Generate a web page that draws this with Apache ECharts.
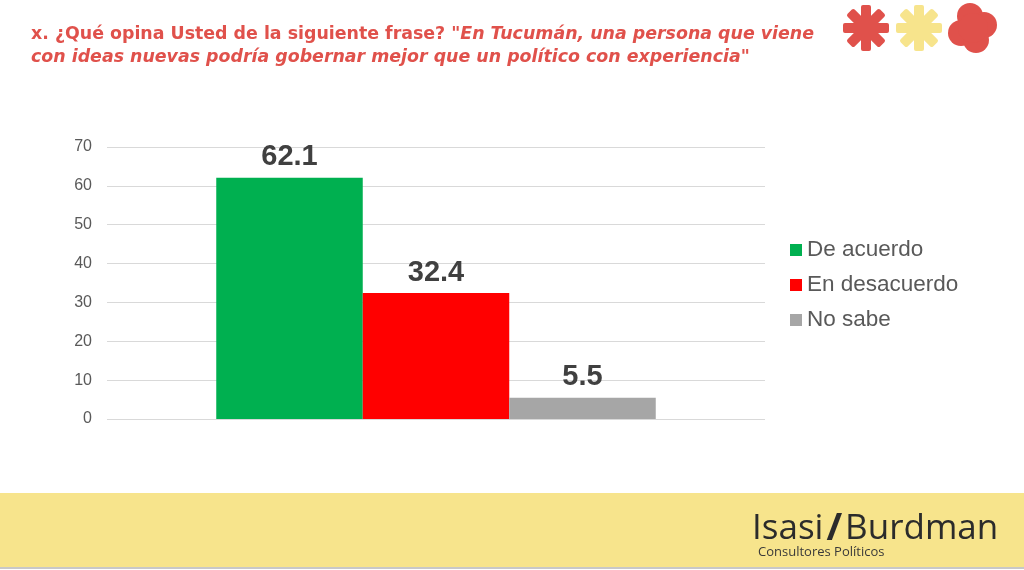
<!DOCTYPE html>
<html><head><meta charset="utf-8">
<script src="https://cdn.jsdelivr.net/npm/echarts@6/dist/echarts.min.js"></script>
<style>html,body{margin:0;padding:0;background:#fff}#c{width:1024px;height:570px}</style>
</head><body><div id="c"></div>
<script>
const categories = ['Respuesta'];
const seriesNames = ['De acuerdo', 'En desacuerdo', 'No sabe'];
const seriesValues = [[62.1], [32.4], [5.5]];
const seriesColors = ['#00B050', '#FF0000', '#A6A6A6'];
const yTicks = [0, 10, 20, 30, 40, 50, 60, 70];

const chart = echarts.init(document.getElementById('c'));

function asterisk(cx, cy, color) {
  const arms = [0, 45, 90, 135].map(a => ({
    type: 'rect', x: cx, y: cy, rotation: a * Math.PI / 180,
    shape: { x: -23, y: -5, width: 46, height: 10, r: 2 },
    style: { fill: color }
  }));
  return { type: 'group', children: arms };
}
function blob(cx, cy, color) {
  const pts = [[-3, -12, 13], [11, -3, 13], [-12, 5, 13], [3, 12, 13], [0, 0, 15]];
  return { type: 'group', children: pts.map(p => ({
    type: 'circle', shape: { cx: cx + p[0], cy: cy + p[1], r: p[2] },
    style: { fill: color }
  })) };
}

chart.setOption({
  animation: false,
  backgroundColor: '#ffffff',
  title: {
    left: 26, top: 18,
    text: '{a|x. ¿Qué opina Usted de la siguiente frase? }{b|"En Tucumán, una persona que viene}\n{b|con ideas nuevas podría gobernar mejor que un político con experiencia"}',
    textStyle: {
      rich: {
        a: { fontFamily: 'DejaVu Sans', fontWeight: 'bold', fontSize: 17.4, color: '#E0514B', lineHeight: 23 },
        b: { fontFamily: 'DejaVu Sans', fontWeight: 'bold', fontStyle: 'italic', fontSize: 17.4, color: '#E0514B', lineHeight: 23 }
      }
    }
  },
  graphic: [
    { type: 'rect', shape: { x: 0, y: 493, width: 1024, height: 75 }, style: { fill: '#F7E48C' }, z: -1 },
    { type: 'rect', shape: { x: 0, y: 567, width: 1024, height: 2 }, style: { fill: '#C8C8C8' }, z: -1 },
    { type: 'text', left: 752, top: 510, style: {
        text: '{a|Isasi}{s|/}{a|Burdman}',
        rich: {
          a: { fontFamily: 'Open Sans', fontSize: 35, fill: '#2B2B2B', color: '#2B2B2B' },
          s: { fontFamily: 'Open Sans', fontWeight: 'bold', fontSize: 38, fill: '#2B2B2B', color: '#2B2B2B', padding: [0, 3, 0, 3] }
        } } },
    { type: 'text', left: 758, top: 546, style: { text: 'Consultores Políticos', fontFamily: 'Open Sans', fontSize: 13, fill: '#3A3A3A' } },
    asterisk(866, 28, '#E0514B'),
    asterisk(919, 28, '#F7E48C'),
    blob(973, 28, '#E0514B')
  ],
  legend: {
    orient: 'vertical', left: 785, top: 232,
    itemWidth: 12, itemHeight: 12, itemGap: 9,
    icon: 'rect',
    textStyle: { fontFamily: 'Liberation Sans', fontSize: 22.5, color: '#595959', lineHeight: 26 },
    data: seriesNames
  },
  grid: { left: 107, right: 259, top: 147, bottom: 151 },
  xAxis: {
    type: 'category', data: categories,
    axisLine: { show: false }, axisTick: { show: false }, axisLabel: { show: false }
  },
  yAxis: {
    type: 'value', min: yTicks[0], max: yTicks[yTicks.length - 1], interval: 10,
    axisLine: { show: false }, axisTick: { show: false },
    axisLabel: { fontFamily: 'Liberation Sans', fontSize: 16, color: '#595959', margin: 15 },
    splitLine: { lineStyle: { color: '#D9D9D9', width: 1 } }
  },
  series: seriesNames.map((n, i) => ({
    name: n, type: 'bar', data: seriesValues[i],
    barWidth: 146.5, barGap: '0%',
    itemStyle: { color: seriesColors[i] },
    label: { show: true, position: 'top', distance: 6, fontFamily: 'Liberation Sans', fontWeight: 'bold', fontSize: 29, color: '#404040',
      formatter: p => p.value.toFixed(1) }
  }))
});
</script></body></html>
